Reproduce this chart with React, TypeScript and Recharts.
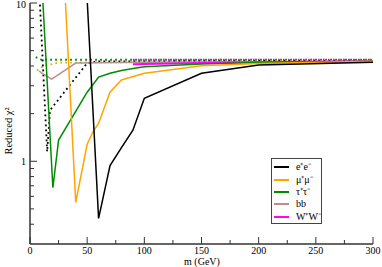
import { LineChart, Line, XAxis, YAxis, Legend } from 'recharts';

const FONT = '"Liberation Serif", "Times New Roman", serif';
const AXIS = '#333';

// solid lines (fit results)
const M_EE = [50, 60, 70, 80, 90, 100, 150, 200, 300];
const CHI_EE = [10.5, 0.435, 0.94, 1.22, 1.57, 2.5, 3.6, 4.05, 4.23];

const M_MUMU = [30, 40, 50, 55, 60, 70, 80, 100, 150, 200, 300];
const CHI_MUMU = [14, 0.55, 1.28, 1.53, 1.74, 2.73, 3.26, 3.6, 4.02, 4.15, 4.28];

const M_TAUTAU = [10, 20, 25, 50, 60, 70, 80, 90, 100, 150, 200, 300];
const CHI_TAUTAU = [15, 0.68, 1.36, 2.73, 3.4, 3.6, 3.75, 3.85, 3.95, 4.12, 4.2, 4.28];

const M_BB = [8, 10, 19, 40, 100, 300];
const CHI_BB = [3.72, 3.62, 3.3, 4.17, 4.22, 4.28];

const M_WW = [90, 100, 150, 200, 300];
const CHI_WW = [4.1, 4.12, 4.18, 4.22, 4.28];

// dotted lines
const M_EE_DOT = [8.5, 15, 17.5, 50, 60, 300];
const CHI_EE_DOT = [10.5, 1.15, 2.1, 4.17, 4.27, 4.32];

const M_MUMU_DOT = [6, 10, 15, 25, 300];
const CHI_MUMU_DOT = [3.75, 3.92, 4.05, 4.2, 4.3];

const M_TAUTAU_DOT = [5, 10, 300];
const CHI_TAUTAU_DOT = [4.55, 4.38, 4.38];

const M_WW_DOT = [90, 300];
const CHI_WW_DOT = [4.38, 4.38];

const X_TICKS = [0, 25, 50, 75, 100, 125, 150, 175, 200, 225, 250, 275, 300];
const Y_TICKS = [0.4, 0.5, 0.6, 0.7, 0.8, 0.9, 1, 2, 3, 4, 5, 6, 7, 8, 9, 10];
const Y_MAJOR = [1, 10];

const LEGEND = [
  { name: 'e⁺e⁻', color: '#000000' },
  { name: 'μ⁺μ⁻', color: '#ffa500' },
  { name: 'τ⁺τ⁻', color: '#008b00' },
  { name: 'bb', color: '#bc8f8f' },
  { name: 'W⁺W⁻', color: '#ff00ff' },
];

const zip = (m: number[], v: number[]) => m.map((x, i) => ({ m: x, chi: v[i] }));

const BottomTick = ({ x, y, payload }: any) => {
  const major = payload.value % 50 === 0;
  return (
    <g>
      <line x1={x} x2={x} y1={y} y2={y - (major ? 7 : 4)} stroke={AXIS} />
      {major && (
        <text x={x} y={y + 10} textAnchor="middle" fontSize={10} fontFamily={FONT} fill="#000">
          {payload.value}
        </text>
      )}
    </g>
  );
};

const TopTick = ({ x, y, payload }: any) => {
  const major = payload.value % 50 === 0;
  return <line x1={x} x2={x} y1={y} y2={y + (major ? 7 : 4)} stroke={AXIS} />;
};

const LeftTick = ({ x, y, payload }: any) => {
  const major = Y_MAJOR.includes(payload.value);
  return (
    <g>
      <line x1={x} x2={x + (major ? 7 : 4)} y1={y} y2={y} stroke={AXIS} />
      {major && (
        <text x={x - 4} y={Math.max(y + 4, 8)} textAnchor="end" fontSize={10} fontFamily={FONT} fill="#000">
          {payload.value}
        </text>
      )}
    </g>
  );
};

const RightTick = ({ x, y, payload }: any) => {
  const major = Y_MAJOR.includes(payload.value);
  return <line x1={x} x2={x - (major ? 7 : 4)} y1={y} y2={y} stroke={AXIS} />;
};

const LegendBox = () => (
  <div
    style={{
      border: '1px solid #444',
      background: '#fff',
      width: 51,
      height: 66,
      boxSizing: 'border-box',
      paddingTop: 2,
      fontFamily: FONT,
      fontSize: 10,
    }}
  >
    {LEGEND.map((e) => (
      <div key={e.name} style={{ display: 'flex', alignItems: 'center', height: 12.4 }}>
        <div style={{ width: 15, height: 2, background: e.color, marginLeft: 2, marginRight: 7 }} />
        <span style={{ lineHeight: '12px' }}>{e.name}</span>
      </div>
    ))}
  </div>
);

const solid = { dot: false, isAnimationActive: false, strokeWidth: 1.5, type: 'linear' as const };
const dotted = { ...solid, strokeWidth: 1.8, strokeDasharray: '1.8 3.2' };

export default function App() {
  return (
    <div style={{ position: 'fixed', left: 0, top: 0, width: 382, height: 267, background: '#fff' }}>
      <LineChart width={382} height={267} margin={{ top: 3, right: 9, bottom: 0, left: 0 }}>
        <XAxis
          dataKey="m"
          type="number"
          domain={[0, 300]}
          ticks={X_TICKS}
          interval={0}
          height={23}
          tickSize={0}
          tickMargin={0}
          tickLine={false}
          tick={<BottomTick />}
          axisLine={{ stroke: AXIS, strokeWidth: 1.5 }}
          allowDataOverflow
          label={{
            content: () => (
              <text x={202} y={265} textAnchor="middle" fontSize={10} fontFamily={FONT} fill="#000">
                m (GeV)
              </text>
            ),
          }}
        />
        <XAxis
          xAxisId="top"
          orientation="top"
          dataKey="m"
          type="number"
          domain={[0, 300]}
          ticks={X_TICKS}
          interval={0}
          height={0}
          tickSize={0}
          tickMargin={0}
          tickLine={false}
          tick={<TopTick />}
          axisLine={{ stroke: AXIS, strokeWidth: 1.5 }}
          allowDataOverflow
        />
        <YAxis
          scale="log"
          type="number"
          domain={[0.3, 10]}
          ticks={Y_TICKS}
          interval={0}
          width={30}
          tickSize={0}
          tickMargin={0}
          tickLine={false}
          tick={<LeftTick />}
          axisLine={{ stroke: AXIS, strokeWidth: 1.5 }}
          allowDataOverflow
          label={{
            content: () => (
              <text
                x={12}
                y={131}
                transform="rotate(-90 12 131)"
                textAnchor="middle"
                fontSize={10.5}
                fontFamily={FONT}
                fill="#000"
              >
                Reduced χ²
              </text>
            ),
          }}
        />
        <YAxis
          yAxisId="right"
          orientation="right"
          scale="log"
          type="number"
          domain={[0.3, 10]}
          ticks={Y_TICKS}
          interval={0}
          width={0}
          tickSize={0}
          tickMargin={0}
          tickLine={false}
          tick={<RightTick />}
          axisLine={{ stroke: AXIS, strokeWidth: 1.5 }}
          allowDataOverflow
        />
        <Legend
          content={<LegendBox />}
          verticalAlign="middle"
          align="center"
          layout="horizontal"
          wrapperStyle={{ position: 'absolute', left: 271, top: 158, width: 52, height: 67 }}
        />

        <Line {...dotted} data={zip(M_TAUTAU_DOT, CHI_TAUTAU_DOT)} dataKey="chi" stroke="#008b00" />
        <Line {...dotted} data={zip(M_WW_DOT, CHI_WW_DOT)} dataKey="chi" stroke="#ff00ff" />
        <Line {...dotted} data={zip(M_MUMU_DOT, CHI_MUMU_DOT)} dataKey="chi" stroke="#ffa500" />
        <Line {...dotted} data={zip(M_EE_DOT, CHI_EE_DOT)} dataKey="chi" stroke="#000000" />

        <Line {...solid} data={zip(M_BB, CHI_BB)} dataKey="chi" stroke="#bc8f8f" />
        <Line {...solid} data={zip(M_WW, CHI_WW)} dataKey="chi" stroke="#ff00ff" strokeWidth={2} />
        <Line {...solid} data={zip(M_TAUTAU, CHI_TAUTAU)} dataKey="chi" stroke="#008b00" />
        <Line {...solid} data={zip(M_MUMU, CHI_MUMU)} dataKey="chi" stroke="#ffa500" />
        <Line {...solid} data={zip(M_EE, CHI_EE)} dataKey="chi" stroke="#000000" />
      </LineChart>
    </div>
  );
}
